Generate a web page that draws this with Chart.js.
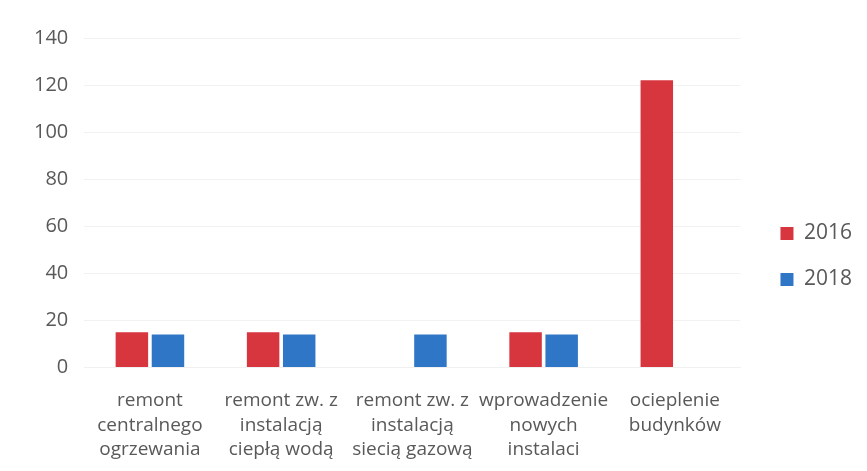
<!DOCTYPE html>
<html>
<head>
<meta charset="utf-8">
<script src="https://cdn.jsdelivr.net/npm/chart.js@4/dist/chart.umd.min.js"></script>
<style>
  html, body { margin: 0; padding: 0; background: #fff; }
  #wrap { width: 867px; height: 471px; }
</style>
</head>
<body>
<div id="wrap"><canvas id="chart"></canvas></div>
<script>
const categories = [
  ["remont", "centralnego", "ogrzewania"],
  ["remont zw. z", "instalacją", "ciepłą wodą"],
  ["remont zw. z", "instalacją", "siecią gazową"],
  ["wprowadzenie", "nowych", "instalaci"],
  ["ocieplenie", "budynków"]
];
const values2016 = [15, 15, null, 15, 122];
const values2018 = [14, 14, 14, 14, null];
const seriesNames = ["2016", "2018"];

// push the legend a bit further right of the plot area
const legendShift = {
  id: "legendShift",
  afterLayout(chart) {
    if (chart.legend) {
      chart.legend.left += 15;
      chart.legend.right += 15;
    }
  }
};

const ctx = document.getElementById("chart").getContext("2d");
new Chart(ctx, {
  type: "bar",
  data: {
    labels: categories,
    datasets: [
      {
        label: seriesNames[0],
        data: values2016,
        backgroundColor: "#d8363f",
        categoryPercentage: 0.55,
        barPercentage: 0.9
      },
      {
        label: seriesNames[1],
        data: values2018,
        backgroundColor: "#2f76c6",
        categoryPercentage: 0.55,
        barPercentage: 0.9
      }
    ]
  },
  options: {
    responsive: true,
    maintainAspectRatio: false,
    animation: false,
    layout: { padding: { top: 38, left: 18, right: 20, bottom: -4 } },
    plugins: {
      tooltip: { enabled: false },
      legend: {
        position: "right",
        labels: {
          boxWidth: 13,
          boxHeight: 13,
          padding: 25,
          color: "#595959",
          font: { family: "Open Sans", size: 21 }
        }
      }
    },
    scales: {
      x: {
        grid: { display: false },
        border: { color: "#f0f0f0" },
        ticks: {
          color: "#595959",
          maxRotation: 0,
          autoSkip: false,
          padding: 13,
          font: { family: "Open Sans", size: 19, lineHeight: 1.29 }
        }
      },
      y: {
        min: 0,
        max: 140,
        grid: { color: "#f2f2f2", drawTicks: false },
        border: { display: false },
        ticks: {
          stepSize: 20,
          color: "#595959",
          padding: 16,
          font: { family: "Open Sans", size: 20 }
        }
      }
    }
  },
  plugins: [legendShift]
});
</script>
</body>
</html>
